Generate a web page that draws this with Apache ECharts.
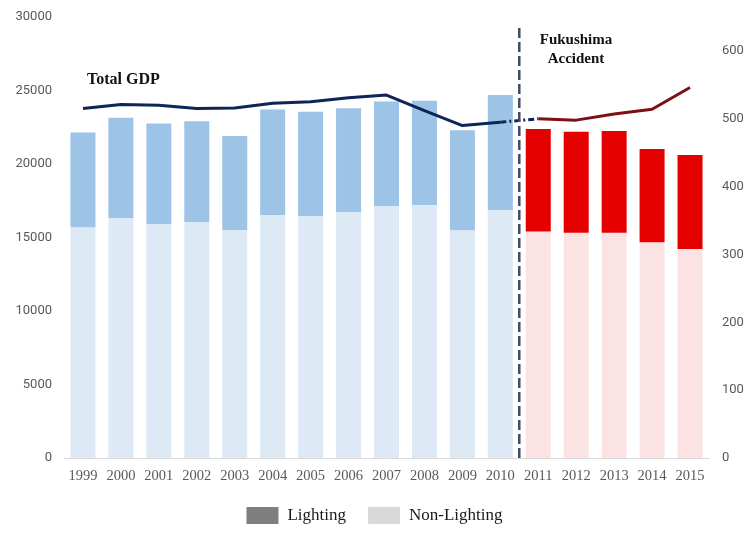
<!DOCTYPE html>
<html>
<head>
<meta charset="utf-8">
<script src="https://cdn.jsdelivr.net/npm/echarts@6/dist/echarts.min.js"></script>
<style>html,body{margin:0;padding:0;background:#fff}#c{width:749px;height:533px}</style>
</head>
<body>
<div id="c"></div>
<script>
var years = ['1999','2000','2001','2002','2003','2004','2005','2006','2007','2008','2009','2010','2011','2012','2013','2014','2015'];
var totalValues = [22150, 23150, 22750, 22900, 21900, 23700, 23550, 23800, 24250, 24300, 22300, 24700, 22380, 22200, 22250, 21020, 20610];
var nonLighting = [15700, 16330, 15920, 16050, 15510, 16530, 16460, 16740, 17140, 17210, 15500, 16870, 15400, 15330, 15330, 14680, 14220];
var lighting = totalValues.map(function (t, i) { return t - nonLighting[i]; });
var gdpBefore = [515, 521, 520, 515, 516, 523, 525, 531, 535, 512, 490, 495];
var gdpAfter = [500, 498, 507, 514, 546];
var accidentIndex = 12; // first year after Fukushima (2011)
var leftTicks = [0, 5000, 10000, 15000, 20000, 25000, 30000];
var rightTicks = [0, 100, 200, 300, 400, 500, 600];

var gdpBlue = years.map(function (y, i) { return i < gdpBefore.length ? gdpBefore[i] : null; });
var gdpRed = years.map(function (y, i) { return i >= accidentIndex ? gdpAfter[i - accidentIndex] : null; });
var gdpLink = years.map(function (y, i) {
  if (i === accidentIndex - 1) return gdpBefore[i];
  if (i === accidentIndex) return gdpAfter[0];
  return null;
});

var chart = echarts.init(document.getElementById('c'));
var serif = '"Liberation Serif", "DejaVu Serif", serif';
var sans = 'Roboto, "Open Sans", sans-serif';
chart.setOption({
  animation: false,
  grid: { left: 64, right: 40, top: 17, bottom: 75 },
  legend: {
    bottom: 4, left: 'center',
    icon: 'rect', itemWidth: 32, itemHeight: 17, itemGap: 22,
    textStyle: { fontFamily: serif, fontSize: 17, color: '#1a1a1a', padding: [0, 0, 0, 4] },
    data: [
      { name: 'Lighting', itemStyle: { color: '#7f7f7f' } },
      { name: 'Non-Lighting', itemStyle: { color: '#d9d9d9' } }
    ]
  },
  xAxis: [{
    type: 'category', data: years,
    axisLine: { lineStyle: { color: '#d9d9d9', width: 1 } },
    axisTick: { show: false },
    axisLabel: { interval: 0, fontFamily: serif, fontSize: 14.5, color: '#595959', margin: 11 }
  }, {
    type: 'value', min: -0.5, max: years.length - 0.5, show: false
  }],
  yAxis: [{
    type: 'value', min: 0, max: 30000, interval: 5000,
    splitLine: { show: false }, axisLine: { show: false }, axisTick: { show: false },
    axisLabel: { fontFamily: sans, fontSize: 13, color: '#595959', margin: 12,
      formatter: function (v) { return leftTicks.indexOf(v) >= 0 ? String(v) : ''; } }
  }, {
    type: 'value', min: 0, max: 650, interval: 100, position: 'right',
    splitLine: { show: false }, axisLine: { show: false }, axisTick: { show: false },
    axisLabel: { fontFamily: sans, fontSize: 13, color: '#595959', margin: 13,
      formatter: function (v) { return rightTicks.indexOf(v) >= 0 ? String(v) : ''; } }
  }],
  series: [{
    name: 'Non-Lighting', type: 'bar', stack: 'e', barWidth: 25,
    data: nonLighting,
    itemStyle: { color: function (p) { return p.dataIndex < accidentIndex ? '#dde9f5' : '#fce3e3'; } }
  }, {
    name: 'Lighting', type: 'bar', stack: 'e', barWidth: 25,
    data: lighting,
    itemStyle: { color: function (p) { return p.dataIndex < accidentIndex ? '#9dc3e6' : '#e50000'; } }
  }, {
    name: 'GDP', type: 'line', yAxisIndex: 1, data: gdpBlue, symbol: 'none',
    lineStyle: { color: '#0d2558', width: 3 }, z: 5
  }, {
    name: 'GDP link', type: 'line', yAxisIndex: 1, data: gdpLink, symbol: 'none',
    lineStyle: { color: '#0d2558', width: 3, type: [6, 3, 2, 3] }, z: 5
  }, {
    name: 'GDP after', type: 'line', yAxisIndex: 1, data: gdpRed, symbol: 'none',
    lineStyle: { color: '#7d1016', width: 3 }, z: 5
  }, {
    name: 'Accident', type: 'line', xAxisIndex: 1, yAxisIndex: 0, symbol: 'none',
    data: [[accidentIndex - 0.5, 0], [accidentIndex - 0.5, 29500]],
    lineStyle: { color: '#3e4c61', width: 2.5, type: [10, 4] }, z: 6
  }],
  graphic: [{
    type: 'text', left: 87, top: 72,
    style: { text: 'Total GDP', font: 'bold 16px ' + serif, fill: '#111' }
  }, {
    type: 'text', x: 576, y: 31,
    style: { text: 'Fukushima\nAccident', font: 'bold 15px ' + serif, fill: '#111', align: 'center', verticalAlign: 'top', lineHeight: 19 }
  }]
});
</script>
</body>
</html>
